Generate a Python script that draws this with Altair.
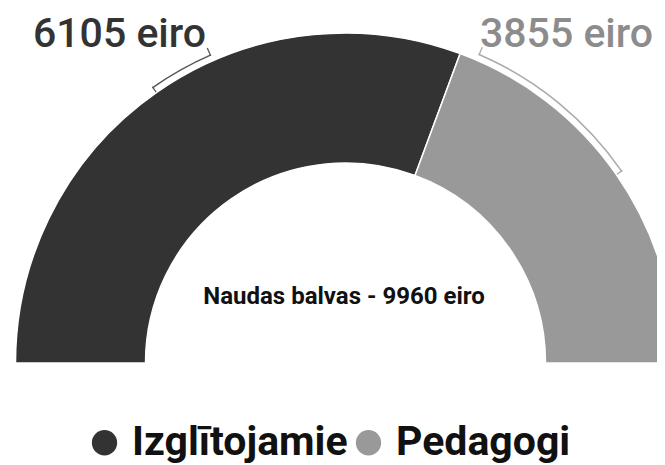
import altair as alt
import pandas as pd

categories = ["Izglītojamie", "Pedagogi"]
values = [6105, 3855]
colors = ["#333333", "#999999"]
label_colors = ["#333333", "#8c8c8c"]
# bracket spans (in euro units along the half ring) and tick directions
bracket_start = [3040, 6270]
bracket_end = [3675, 8040]
start_tick_out = [False, True]
end_tick_out = [True, False]
total = sum(values)

df = pd.DataFrame({"category": categories, "value": values})

theta_scale = alt.Scale(domain=[0, total], range=[-3.14159265 / 2, 3.14159265 / 2])
CX, CY = 337.5, 355

ring = alt.Chart(df).mark_arc(
    x=CX, y=CY, radius=330, radius2=200, stroke="white", strokeWidth=1.5
).encode(
    theta=alt.Theta("value:Q", stack=True, scale=theta_scale),
    color=alt.Color(
        "category:N",
        scale=alt.Scale(domain=categories, range=colors),
        sort=categories,
        legend=alt.Legend(
            title=None, orient="none", legendX=76, legendY=414,
            direction="horizontal", symbolType="circle", symbolSize=640,
            symbolStrokeWidth=0, labelFontSize=41, labelFont="Roboto",
            labelFontWeight="bold", labelColor="#111111", labelOffset=7,
            columnPadding=-8, labelLimit=400,
        ),
    ),
    order=alt.Order("value:Q", sort="descending"),
)

bdf = pd.DataFrame({
    "category": categories,
    "b0": bracket_start,
    "b1": bracket_end,
})
tick_w = 12
ticks = []
for i, c in enumerate(categories):
    ticks.append({"category": c, "t0": bracket_start[i], "t1": bracket_start[i] + tick_w,
                  "out": start_tick_out[i]})
    ticks.append({"category": c, "t0": bracket_end[i] - tick_w, "t1": bracket_end[i],
                  "out": end_tick_out[i]})
tdf = pd.DataFrame(ticks)

bracket_color = alt.Color("category:N", scale=alt.Scale(domain=categories, range=["#555555", "#aaaaaa"]), legend=None)

brackets = alt.Chart(bdf).mark_arc(x=CX, y=CY, radius=337, radius2=335.5).encode(
    theta=alt.Theta("b0:Q", scale=theta_scale, stack=None),
    theta2="b1:Q",
    color=bracket_color,
)
ticks_out = alt.Chart(tdf[tdf["out"]]).mark_arc(x=CX, y=CY, radius=344, radius2=335.5).encode(
    theta=alt.Theta("t0:Q", scale=theta_scale, stack=None),
    theta2="t1:Q",
    color=bracket_color,
)
ticks_in = alt.Chart(tdf[~tdf["out"]]).mark_arc(x=CX, y=CY, radius=337, radius2=330.5).encode(
    theta=alt.Theta("t0:Q", scale=theta_scale, stack=None),
    theta2="t1:Q",
    color=bracket_color,
)

ldf = pd.DataFrame({
    "label": [f"{v} eiro" for v in values],
    "category": categories,
})
lab1 = alt.Chart(ldf.iloc[[0]]).mark_text(
    x=25, y=39, align="left", baseline="alphabetic", font="Roboto", fontSize=41,
    fontWeight=500, color=label_colors[0],
).encode(text="label:N")
lab2 = alt.Chart(ldf.iloc[[1]]).mark_text(
    x=472, y=39, align="left", baseline="alphabetic", font="Roboto", fontSize=41,
    fontWeight=500, color=label_colors[1],
).encode(text="label:N")

cdf = pd.DataFrame({"label": [f"Naudas balvas - {total} eiro"]})
center = alt.Chart(cdf).mark_text(
    x=336, y=296, align="center", baseline="alphabetic", font="Roboto",
    fontSize=24, fontWeight="bold", color="#111111",
).encode(text="label:N")

chart = alt.layer(ring, brackets, ticks_out, ticks_in, lab1, lab2, center).properties(
    width=649, height=457, autosize="none", padding=0,
).configure_view(stroke=None).resolve_scale(color="independent")

chart.save("out.html", embed_options={"renderer": "svg", "actions": False})
